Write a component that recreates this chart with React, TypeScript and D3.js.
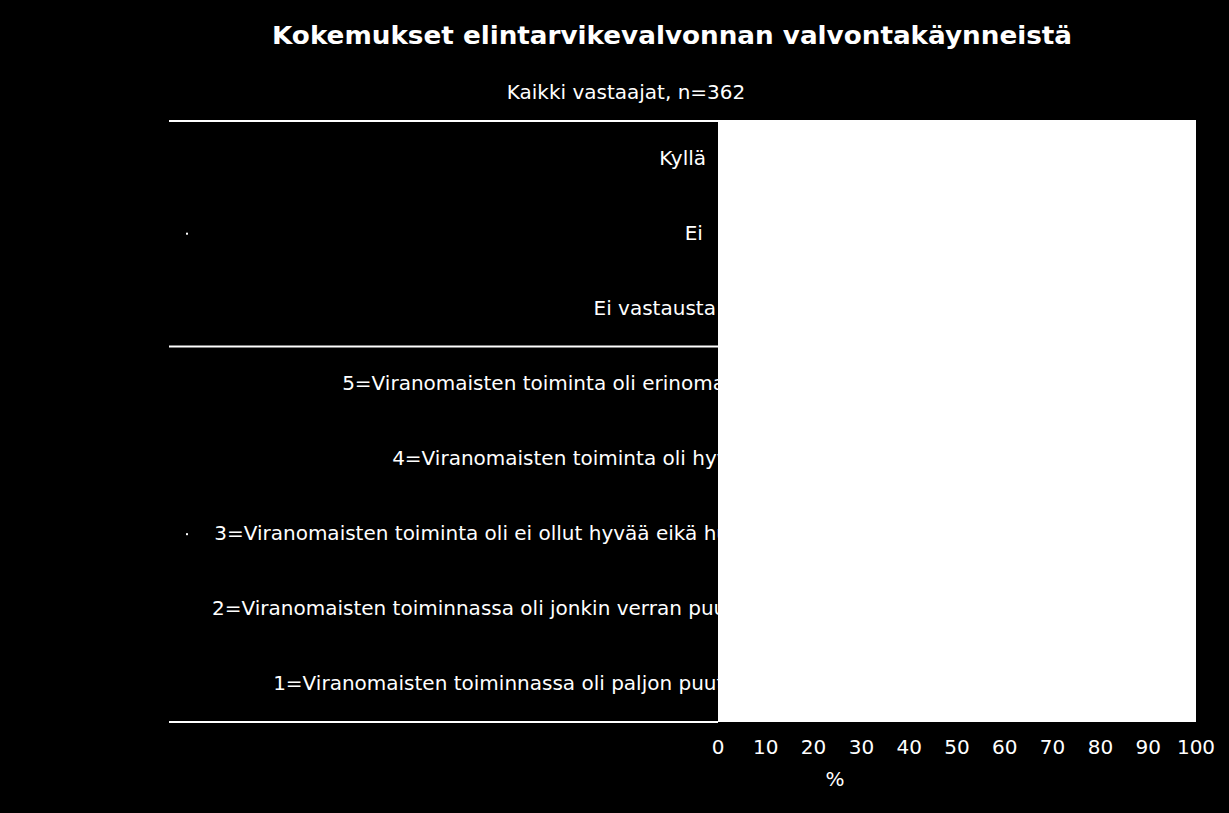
import { useMemo } from 'react';
import * as d3 from 'd3';

// Chart content
const TITLE = 'Kokemukset elintarvikevalvonnan valvontakäynneistä';
const SUBTITLE = 'Kaikki vastaajat, n=362';
const AXIS_LABEL = '%';

const categories = [
  'Kyllä',
  'Ei',
  'Ei vastausta',
  '5=Viranomaisten toiminta oli erinomaista',
  '4=Viranomaisten toiminta oli hyvää',
  '3=Viranomaisten toiminta oli ei ollut hyvää eikä huonoa',
  '2=Viranomaisten toiminnassa oli jonkin verran puutteita',
  '1=Viranomaisten toiminnassa oli paljon puutteita',
];

// group separators: index of first category of each group, plus end
const groupBreaks = [0, 3, 8];

// categories that carry a small stray marker dot on the left
const dottedRows = ['Ei', '3=Viranomaisten toiminta oli ei ollut hyvää eikä huonoa'];

const xTicks = [0, 10, 20, 30, 40, 50, 60, 70, 80, 90, 100];

const FONT = '"DejaVu Sans", Verdana, sans-serif';
// labels were laid out with narrower (Arial-like) metrics, then drawn wider
const LAYOUT_FONT = '20px "Liberation Sans", Arial, sans-serif';

function useLayoutWidths(labels: string[]) {
  return useMemo(() => {
    const ctx = document.createElement('canvas').getContext('2d');
    if (!ctx) return labels.map((l) => l.length * 9.6);
    ctx.font = LAYOUT_FONT;
    return labels.map((l) => ctx.measureText(l).width);
  }, [labels]);
}

export default function App() {
  const width = 1229;
  const height = 813;
  const plot = { left: 718, right: 1196, top: 121, bottom: 722 };
  const lineLeft = 169;
  const labelRight = 702.5;

  const x = d3.scaleLinear().domain([0, 100]).range([plot.left, plot.right]);
  const y = d3
    .scaleBand<string>()
    .domain(categories)
    .range([plot.top, plot.bottom]);

  const widths = useLayoutWidths(categories);

  const bandEdge = (i: number) =>
    i >= categories.length ? plot.bottom : (y(categories[i]) ?? 0);

  return (
    <div style={{ position: 'absolute', left: 0, top: 0 }}>
      <svg width={width} height={height} style={{ display: 'block', background: '#000' }}>
        <rect width={width} height={height} fill='#000' />

        {/* Title */}
        <text
          x={672}
          y={44}
          textAnchor='middle'
          fontFamily={FONT}
          fontWeight='bold'
          fontSize={24}
          textLength={800}
          lengthAdjust='spacingAndGlyphs'
          fill='#fff'
        >
          {TITLE}
        </text>
        <text
          x={626}
          y={99}
          textAnchor='middle'
          fontFamily={FONT}
          fontSize={20}
          fill='#fff'
        >
          {SUBTITLE}
        </text>

        {/* Category labels (overdrawn by the plot area) */}
        {categories.map((c, i) => (
          <text
            key={c}
            x={labelRight - widths[i]}
            y={(y(c) ?? 0) + y.bandwidth() / 2}
            dy='0.3em'
            textAnchor='start'
            fontFamily={FONT}
            fontSize={20}
            fill='#fff'
          >
            {c}
          </text>
        ))}

        {dottedRows.map((c) => (
          <rect
            key={c}
            x={186}
            y={(y(c) ?? 0) + y.bandwidth() / 2 - 1}
            width={2}
            height={2}
            fill='#fff'
          />
        ))}

        {/* Plot area */}
        <rect
          x={plot.left}
          y={plot.top - 1}
          width={plot.right - plot.left}
          height={plot.bottom - plot.top + 1}
          fill='#fff'
        />

        {/* Group separator lines */}
        {groupBreaks.map((b) => (
          <line
            key={b}
            x1={lineLeft}
            x2={plot.left}
            y1={bandEdge(b)}
            y2={bandEdge(b)}
            stroke='#fff'
            strokeWidth={2}
          />
        ))}

        {/* X axis ticks */}
        {xTicks.map((t) => (
          <text
            key={t}
            x={x(t)}
            y={747}
            dy='0.35em'
            textAnchor='middle'
            fontFamily={FONT}
            fontSize={20}
            fill='#fff'
          >
            {t}
          </text>
        ))}
        <text
          x={835}
          y={779}
          dy='0.35em'
          textAnchor='middle'
          fontFamily={FONT}
          fontSize={20}
          fill='#fff'
        >
          {AXIS_LABEL}
        </text>
      </svg>
    </div>
  );
}
